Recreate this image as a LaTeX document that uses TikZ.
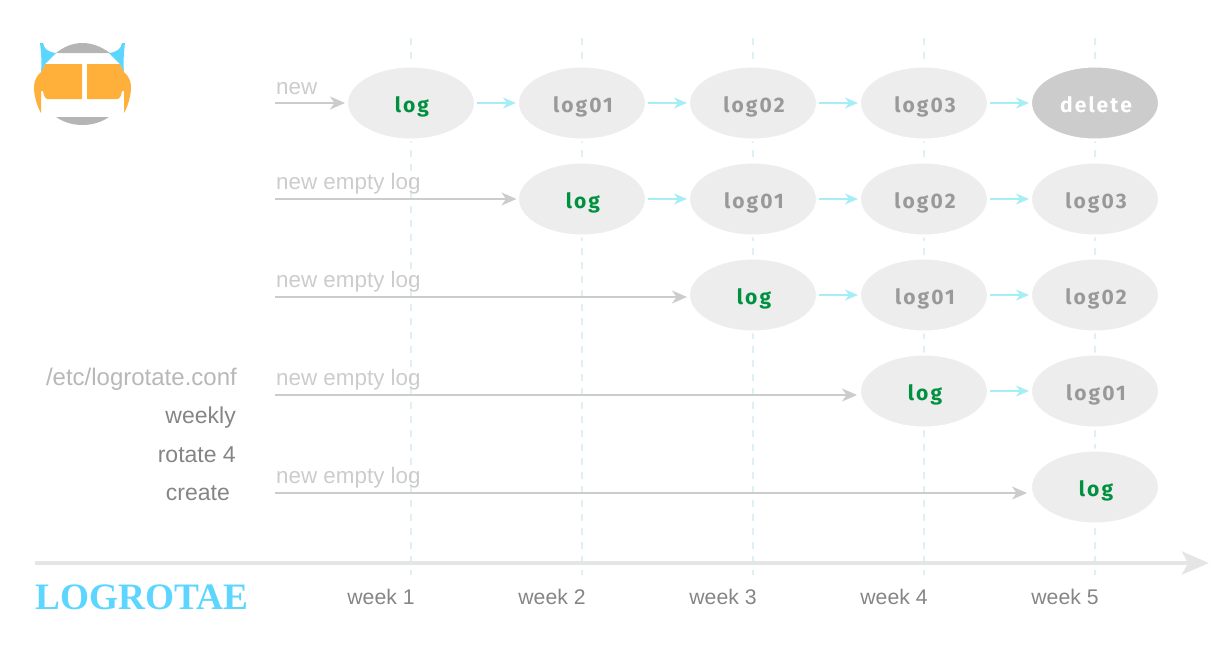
\documentclass[tikz,border=0pt]{standalone}
\usepackage{fontspec}
\setmainfont{Liberation Sans}
\newfontfamily\boxfont[LetterSpace=10]{Fira Sans}
\newfontfamily\titlefont{Liberation Serif}
\usetikzlibrary{arrows.meta,shapes.geometric}
\definecolor{logfill}{HTML}{EDEDED}
\definecolor{delfill}{HTML}{CCCCCC}
\definecolor{newgray}{HTML}{CCCCCC}
\definecolor{axisgray}{HTML}{E5E5E5}
\definecolor{weekgray}{HTML}{858585}
\definecolor{oldgray}{HTML}{999999}
\definecolor{loggreen}{HTML}{009140}
\definecolor{rotcyan}{HTML}{A6EEF6}
\definecolor{weekdash}{HTML}{DDF0F5}
\definecolor{logocyan}{HTML}{5CD6FF}
\definecolor{logoorange}{HTML}{FFB03B}
\definecolor{logogray}{HTML}{B5B5B5}
\tikzset{
  logbox/.style={ellipse,draw=white,line width=3pt,fill=logfill,minimum width=129pt,minimum height=74pt,inner sep=0pt,outer sep=0pt,font=\boxfont\fontsize{21}{21}\selectfont\bfseries,text=oldgray,text height=19pt,text depth=0pt,execute at begin node={\hskip2pt}},
  newbox/.style={logbox,text=loggreen},
  delbox/.style={logbox,fill=delfill,text=white},
  rotarrow/.style={draw=rotcyan,line width=2pt,-{Stealth[length=13pt,width=11pt,inset=4pt]},shorten >=1.5pt,shorten <=1.5pt},
  newarrow/.style={draw=newgray,line width=2pt,-{Stealth[length=15pt,width=13pt,inset=4.5pt]}},
  weekline/.style={draw=weekdash,line width=2pt,dash pattern=on 7pt off 7pt},
  newtext/.style={anchor=base west,inner sep=0pt,text=newgray,font=\fontsize{22.4}{22.4}\selectfont},
  conftext/.style={anchor=base east,inner sep=0pt,font=\fontsize{23}{23}\selectfont},
  weektext/.style={anchor=base,inner sep=0pt,text=weekgray,font=\fontsize{21.2}{21.2}\selectfont}
}
\begin{document}
\begin{tikzpicture}[x=1pt,y=-1pt]
\useasboundingbox (0,0) rectangle (1226,656);

% logo
\fill[logogray] (56,53) .. controls (64,46.5) and (73,43) .. (82.5,43) .. controls (92,43) and (101,46.5) .. (110,53) -- cycle;
\fill[logogray] (56,117) .. controls (64,122.5) and (73,125) .. (82.5,125) .. controls (92,125) and (101,122.5) .. (109,117) -- cycle;
\fill[logoorange] (41,72) .. controls (36,76) and (34,82) .. (34,87) .. controls (34,96) and (37,106) .. (41,113) -- (41,91) -- (43,91) .. controls (44,96) and (45,99) .. (48,99) -- (82,99) -- (82,64) -- (45,64) -- cycle;
\fill[logoorange] (124,72) .. controls (129,76) and (131,82) .. (131,87) .. controls (131,96) and (128,106) .. (124,113) -- (124,91) -- (122,91) .. controls (121,96) and (120,99) .. (117,99) -- (87,99) -- (87,64) -- (120,64) -- cycle;
\fill[logocyan] (40,43) -- (43,43) .. controls (44,49) and (48,52) .. (56,53) -- (45,64) -- (41,72) .. controls (42,62) and (41,52) .. (40,43) -- cycle;
\fill[logocyan] (125,43) -- (122,43) .. controls (121,49) and (117,52) .. (109,53) -- (120,64) -- (124,72) .. controls (123,62) and (124,52) .. (125,43) -- cycle;

% week lines
\coordinate (w1t) at (411,38); \coordinate (w1b) at (411,575);
\coordinate (w2t) at (582,38); \coordinate (w2b) at (582,575);
\coordinate (w3t) at (753,38); \coordinate (w3b) at (753,575);
\coordinate (w4t) at (924,38); \coordinate (w4b) at (924,575);
\coordinate (w5t) at (1095,38); \coordinate (w5b) at (1095,575);
\draw[weekline] (w1t) -- (w1b);
\draw[weekline] (w2t) -- (w2b);
\draw[weekline] (w3t) -- (w3b);
\draw[weekline] (w4t) -- (w4b);
\draw[weekline] (w5t) -- (w5b);

% time axis
\coordinate (axisa) at (35,563); \coordinate (axisb) at (1209,563);
\draw[draw=axisgray,line width=3.5pt,-{Stealth[length=27pt,width=23pt,inset=6pt]}] (axisa) -- (axisb);

% logs
\node[newbox] (a1) at (411,103) {log};
\node[logbox] (a2) at (582,103) {log01};
\node[logbox] (a3) at (753,103) {log02};
\node[logbox] (a4) at (924,103) {log03};
\node[delbox] (a5) at (1095,103) {delete};

\node[newbox] (b2) at (582,199) {log};
\node[logbox] (b3) at (753,199) {log01};
\node[logbox] (b4) at (924,199) {log02};
\node[logbox] (b5) at (1095,199) {log03};

\node[newbox] (c3) at (753,295) {log};
\node[logbox] (c4) at (924,295) {log01};
\node[logbox] (c5) at (1095,295) {log02};

\node[newbox] (d4) at (924,391) {log};
\node[logbox] (d5) at (1095,391) {log01};

\node[newbox] (e5) at (1095,487) {log};

% rotation
\draw[rotarrow] (a1) -- (a2);
\draw[rotarrow] (a2) -- (a3);
\draw[rotarrow] (a3) -- (a4);
\draw[rotarrow] (a4) -- (a5);
\draw[rotarrow] (b2) -- (b3);
\draw[rotarrow] (b3) -- (b4);
\draw[rotarrow] (b4) -- (b5);
\draw[rotarrow] (c3) -- (c4);
\draw[rotarrow] (c4) -- (c5);
\draw[rotarrow] (d4) -- (d5);

% new logs
\coordinate (sa) at (275,103);
\coordinate (sb) at (275,199);
\coordinate (sc) at (275,297);
\coordinate (sd) at (275,395);
\coordinate (se) at (275,493);
\draw[newarrow,shorten >=1.5pt] (sa) -- (sa -| a1.west);
\draw[newarrow,shorten >=1pt] (sb) -- (sb -| b2.west);
\draw[newarrow,shorten >=1.5pt] (sc) -- (sc -| c3.west);
\draw[newarrow,shorten >=2.5pt] (sd) -- (sd -| d4.west);
\draw[newarrow,shorten >=3.5pt] (se) -- (se -| e5.west);
\node[newtext] (ta) at (276,94) {new};
\node[newtext] (tb) at (276,189) {new empty log};
\node[newtext] (tc) at (276,287) {new empty log};
\node[newtext] (td) at (276,385) {new empty log};
\node[newtext] (te) at (276,483) {new empty log};

% config
\node[conftext,text=newgray!90!black,font=\fontsize{24}{24}\selectfont] (conf) at (237,385) {/etc/logrotate.conf};
\node[conftext,text=weekgray] (weekly) at (236,423) {weekly};
\node[conftext,text=weekgray] (rotate) at (236,462) {rotate 4};
\node[conftext,text=weekgray] (create) at (230,500) {create};

% title and weeks
\node[anchor=base west,inner sep=0pt,text=logocyan,font=\titlefont\fontsize{37.3}{37.3}\selectfont\bfseries] (title) at (35,609) {LOGROTAE};
\node[weektext] (k1) at (381,604) {week 1};
\node[weektext] (k2) at (552,604) {week 2};
\node[weektext] (k3) at (723,604) {week 3};
\node[weektext] (k4) at (894,604) {week 4};
\node[weektext] (k5) at (1065,604) {week 5};
\end{tikzpicture}
\end{document}
